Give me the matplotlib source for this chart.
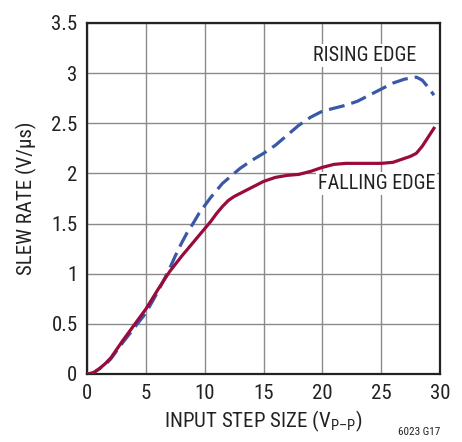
import matplotlib
matplotlib.use("Agg")
import matplotlib.pyplot as plt

fam_list = ['Roboto Condensed', 'Liberation Sans', 'DejaVu Sans']
plt.rcParams['font.family'] = fam_list
plt.rcParams['mathtext.fontset'] = 'custom'
plt.rcParams['mathtext.rm'] = 'Roboto Condensed'
plt.rcParams['mathtext.it'] = 'Roboto Condensed'

rise_x = [0, 0.5, 1, 1.5, 2, 3, 4, 5, 6, 7, 7.5, 8, 8.5, 9, 9.5, 10, 10.5, 11, 11.5, 12, 13, 14, 15, 16, 17, 18, 19, 20, 21, 22, 23, 24, 25, 26, 27, 27.5, 28, 28.5, 29, 29.5]
rise_y = [0, 0.01, 0.05, 0.09, 0.15, 0.31, 0.46, 0.61, 0.82, 1.05, 1.18, 1.3, 1.41, 1.5, 1.6, 1.68, 1.76, 1.83, 1.9, 1.95, 2.05, 2.13, 2.2, 2.28, 2.38, 2.48, 2.56, 2.62, 2.65, 2.68, 2.72, 2.78, 2.84, 2.9, 2.94, 2.95, 2.96, 2.93, 2.86, 2.78]

fall_x = [0, 0.5, 1, 1.5, 2, 3, 4, 5, 6, 7, 8, 9, 10, 10.5, 11, 11.5, 12, 12.5, 13, 14, 15, 16, 17, 18, 19, 20, 21, 22, 23, 24, 25, 26, 27, 27.5, 28, 28.5, 29, 29.5]
fall_y = [0, 0.01, 0.05, 0.1, 0.16, 0.33, 0.49, 0.65, 0.84, 1.02, 1.17, 1.31, 1.45, 1.52, 1.6, 1.67, 1.73, 1.77, 1.8, 1.86, 1.92, 1.96, 1.98, 1.99, 2.02, 2.06, 2.09, 2.1, 2.1, 2.1, 2.1, 2.11, 2.15, 2.17, 2.2, 2.27, 2.36, 2.45]

xticks = [0, 5, 10, 15, 20, 25, 30]
yticks = [0, 0.5, 1, 1.5, 2, 2.5, 3, 3.5]
ytick_labels = ["0", "0.5", "1", "1.5", "2", "2.5", "3", "3.5"]

fig = plt.figure(figsize=(4.62, 4.42), dpi=100)
ax = fig.add_axes([0.189, 0.154, 0.763, 0.794])

ax.plot(rise_x, rise_y, color="#3a58a8", lw=2.3, dashes=[5, 2.2], solid_capstyle='butt', zorder=3)
ax.plot(fall_x, fall_y, color="#9a0b3b", lw=2.3, zorder=4)

ax.set_xlim(0, 30)
ax.set_ylim(0, 3.5)
ax.set_xticks(xticks)
ax.set_yticks(yticks)
ax.set_yticklabels(ytick_labels)
ax.grid(True, color="#8a8a8a", lw=1.0)
ax.set_axisbelow(True)
ax.tick_params(length=0, labelsize=15, colors="#222222")
ax.tick_params(axis='y', pad=7)
ax.tick_params(axis='x', pad=7)
for s in ax.spines.values():
    s.set_linewidth(1.6)
    s.set_color("#222222")

ax.set_xlabel("INPUT STEP SIZE (V$_{\\mathrm{P\u2013P}}$)", fontsize=15, color="#222222", labelpad=4)
ax.set_ylabel("SLEW RATE (V/\u00b5s)", fontsize=15, color="#222222", labelpad=10)

bbox = dict(facecolor="white", edgecolor="none", pad=1.5)
ax.text(19.2, 3.18, "RISING EDGE", fontsize=14.5, color="#222222", va="center", ha="left", bbox=bbox, zorder=5)
ax.text(19.6, 1.9, "FALLING EDGE", fontsize=14.5, color="#222222", va="center", ha="left", bbox=bbox, zorder=5)

fig.text(0.952, 0.012, "6023 G17", fontsize=8, color="#222222", ha="right", va="bottom")

fig.savefig("out.png", dpi=100)
